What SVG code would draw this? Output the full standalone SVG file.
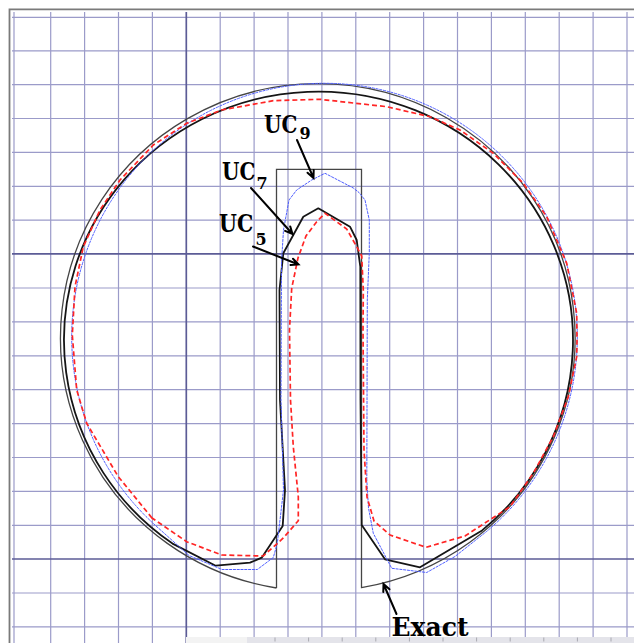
<svg xmlns="http://www.w3.org/2000/svg" width="634" height="643" viewBox="0 0 634 643">
<style>
.g{stroke:#9b9bc9;stroke-width:1.2;fill:none}
.gd{stroke:#5c5c96;stroke-width:1.7;fill:none}
.exact{fill:none;stroke:#454545;stroke-width:1.3;stroke-linejoin:miter}
.uc7{fill:none;stroke:#151515;stroke-width:1.8;stroke-linejoin:round}
.uc9{fill:none;stroke:#4f5fff;stroke-width:1;stroke-dasharray:3 0.8}
.uc5{fill:none;stroke:#ff2525;stroke-width:1.7;stroke-dasharray:5 3}
.arr{fill:none;stroke:#000;stroke-width:2;stroke-linecap:round;stroke-linejoin:miter}
.lb{font-family:"DejaVu Serif","Liberation Serif",serif;font-weight:bold;fill:#000}
</style>
<rect x="0" y="0" width="634" height="643" fill="#fff"/>
<g id="grid">
<path class="g" d="M14 12V643M50.7 12V643M84.6 12V643M118.5 12V643M152.4 12V643M220.2 12V643M254.1 12V643M288 12V643M321.9 12V643M355.8 12V643M389.7 12V643M423.6 12V643M457.5 12V643M491.4 12V643M525.3 12V643M559.2 12V643M593.1 12V643M627 12V643"/>
<path class="g" d="M12 17.3H634M12 50.9H634M12 84.6H634M12 118.5H634M12 152.4H634M12 186.3H634M12 220.2H634M12 288H634M12 321.9H634M12 355.8H634M12 389.7H634M12 423.6H634M12 457.5H634M12 491.4H634M12 525.3H634M12 593H634M12 626.8H634"/>
<path class="gd" d="M186.3 12V643M12 253.8H634M12 559H634"/>
</g>
<g id="frame">
<path d="M9.5 643V9.3H634" fill="none" stroke="#7a7a7a" stroke-width="1.8"/>
<rect x="186" y="637" width="448" height="6" fill="#e4e4ea"/>
<rect x="186" y="637" width="61" height="6" fill="#f3f3f3"/>
<path d="M275 637.5V641.5M308.6 637.5V641.5M342.2 637.5V641.5M375.8 637.5V641.5M409.4 637.5V641.5M443 637.5V641.5M476.6 637.5V641.5M510.2 637.5V641.5M543.8 637.5V641.5M577.4 637.5V641.5M611 637.5V641.5" stroke="#a8a8b0" stroke-width="1"/>
</g>
<g id="curves">
<path id="exact" class="exact" d="M276.5 588 L276.5 169.3 L361.5 169.3 L361.5 587.6 A257.3 253.8 0 1 0 276.5 588"/>
<path id="uc7" class="uc7" d="M282.7 526 L261.7 557.7 L250 562.7 L215.7 565.7 L172.5 543.6 A254.5 248.5 0 1 1 482.1 530.4 L420 567.3 L385 559.3 L361.7 525 L360.5 400 L360.3 266.7 L356.7 240 L350 226.7 L318.3 208.3 L303.3 216.7 L293.3 235 L283.3 253.3 L279.5 290 L280 400 L285 490 Z"/>
<path id="uc9" class="uc9" d="M366.8 480 L367.3 300 L369.3 253 L369.3 220 L365 200 L359 192.5 L353.3 188 L325 173.3 L311.7 180 L296.7 190 L289 200 L283.5 230 L281.5 262 L281 400 L283.5 490 L277.3 543.3 L273.3 557.5 L257.3 569.5 L222 569.5 L189 555.5 L153.3 523.5 A252.8 253.6 0 1 1 486.7 531.4 L455 556.5 L426.7 572.5 L391.7 568.3 L373.3 533.3 L368.5 508 Z"/>
<path id="uc5" class="uc5" d="M152 518 L118.3 476.7 L86.7 423.3 L76.7 390 L72.3 335 L75 286.7 L83.3 246.7 L100 210 L120 180 L153.3 145 L186.7 123.3 L221.7 110 L273.3 100.7 L320 99.3 L386.7 106.7 L430 116.7 L460 130 L493.3 153.3 L523.3 183.3 L546.7 216.7 L566.7 263.3 L576.7 313.3 L577 340 L576.7 356.7 L568.3 396.7 L553.3 436.7 L533.3 473.3 L510 506.7 L465 536 L426 547.3 L390 535 L374 521 L367 497 L364 450 L363 330 L363.3 290 L361.7 256 L356.7 246.7 L346.7 229 L325 213.3 L316.7 221.7 L306 236 L298 258 L291.7 288.3 L289.5 330 L290.5 400 L293.3 446.7 L298.3 496.7 L298.3 520.7 L283.3 538 L263.3 556 L221.7 555 L186.7 541.7 Z"/>
</g>
<g id="label-uc9">
<text class="lb" font-size="25" transform="translate(264 133) scale(0.8 1)">UC</text>
<text class="lb" font-size="16" x="299.5" y="139">9</text>
<path class="arr" d="M297 140 L313.5 178 M307.5 172.7 L313.5 178 L313.7 170"/>
</g>
<g id="label-uc7">
<text class="lb" font-size="25" transform="translate(222 180) scale(0.8 1)">UC</text>
<text class="lb" font-size="16" x="256.5" y="189">7</text>
<path class="arr" d="M251 188 L292.5 234 M285.1 230.9 L292.5 234 L290.2 226.4"/>
</g>
<g id="label-uc5">
<text class="lb" font-size="25" transform="translate(219 232) scale(0.82 1)">UC</text>
<text class="lb" font-size="16" x="255.5" y="245">5</text>
<path class="arr" d="M253 246.5 L298.5 264.5 M293 258.7 L298.5 264.5 L290.5 265"/>
</g>
<g id="label-exact">
<text class="lb" x="391.5" y="636" font-size="26" textLength="77" lengthAdjust="spacingAndGlyphs">Exact</text>
<path class="arr" d="M396.5 614 L383.5 584 M389.5 589.3 L383.5 584 L383.3 592"/>
</g>
</svg>
